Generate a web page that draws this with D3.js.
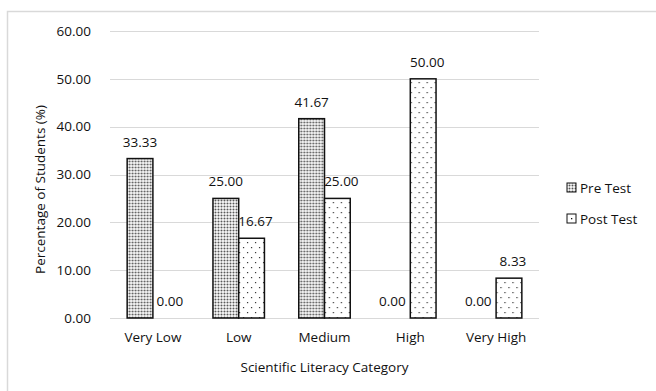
<!DOCTYPE html>
<html><head><meta charset="utf-8">
<script src="https://cdn.jsdelivr.net/npm/d3@7"></script>
<style>body{margin:0;background:#fff}svg{display:block}text{font-family:"Open Sans",Lato,sans-serif;fill:#111}</style>
</head><body><svg id="c" width="656" height="391"></svg>
<script>
const categories = ["Very Low","Low","Medium","High","Very High"];
const seriesNames = ["Pre Test","Post Test"];
const preTest = [33.33,25.00,41.67,0.00,0.00];
const postTest = [0.00,16.67,25.00,50.00,8.33];
const yTicks = [0,10,20,30,40,50,60];

const FS = 13.5;
const svg = d3.select("#c");
const defs = svg.append("defs");
// Pre pattern: dense stipple
const p1 = defs.append("pattern").attr("id","pre").attr("width",3).attr("height",3).attr("patternUnits","userSpaceOnUse");
p1.append("rect").attr("width",3).attr("height",3).attr("fill","#eeeeee");
p1.append("rect").attr("x",2).attr("y",0).attr("width",1).attr("height",3).attr("fill","#b8b8b8");
p1.append("rect").attr("x",0).attr("y",2).attr("width",3).attr("height",1).attr("fill","#b8b8b8");
p1.append("rect").attr("x",2).attr("y",2).attr("width",1).attr("height",1).attr("fill","#555");
// Post pattern: sparse dots
const p2 = defs.append("pattern").attr("id","post").attr("width",8).attr("height",10).attr("patternUnits","userSpaceOnUse");
p2.append("rect").attr("width",8).attr("height",10).attr("fill","#fff");
p2.append("rect").attr("x",2).attr("y",2).attr("width",1.2).attr("height",1.2).attr("fill","#333");
p2.append("rect").attr("x",6).attr("y",7).attr("width",1.2).attr("height",1.2).attr("fill","#333");

// outer border
svg.append("rect").attr("x",7.5).attr("y",11.5).attr("width",660).attr("height",400).attr("fill","none").attr("stroke","#d9d9d9").attr("stroke-width",1.5);

const m = {left:110, right:539, top:31, bottom:318};
const x0 = d3.scaleBand().domain(categories).range([m.left,m.right]).paddingInner(0.4).paddingOuter(0.2);
const x1 = d3.scaleBand().domain(seriesNames).range([0,x0.bandwidth()]);
const y = d3.scaleLinear().domain([0,60]).range([m.bottom,m.top]);

// gridlines
svg.append("g").selectAll("line").data(yTicks).join("line")
  .attr("x1",m.left).attr("x2",m.right).attr("y1",d=>Math.round(y(d))+0.5).attr("y2",d=>Math.round(y(d))+0.5)
  .attr("stroke","#d9d9d9").attr("stroke-width",1);

// y axis labels
const ya = svg.append("g").attr("transform",`translate(${m.left-16},0)`)
  .call(d3.axisLeft(y).tickValues(yTicks).tickFormat(d3.format(".2f")).tickSize(0));
ya.select(".domain").remove();
ya.selectAll("text").attr("font-size",FS).attr("fill","#111").style("font-family","'Open Sans',Lato,sans-serif");

// x axis labels
const xa = svg.append("g").attr("transform",`translate(0,${m.bottom+11})`)
  .call(d3.axisBottom(x0).tickSize(0));
xa.select(".domain").remove();
xa.selectAll("text").attr("font-size",FS).attr("fill","#111").style("font-family","'Open Sans',Lato,sans-serif");

const rows = categories.map((c,i)=>({c, vals:[{s:"Pre Test",v:preTest[i]},{s:"Post Test",v:postTest[i]}]}));
const g = svg.append("g").selectAll("g").data(rows).join("g").attr("transform",d=>`translate(${x0(d.c)},0)`);
g.selectAll("rect").data(d=>d.vals.filter(e=>e.v>0)).join("rect")
  .attr("x",d=>x1(d.s)).attr("width",x1.bandwidth())
  .attr("y",d=>y(d.v)).attr("height",d=>y(0)-y(d.v))
  .attr("fill",d=>d.s==="Pre Test"?"url(#pre)":"url(#post)")
  .attr("stroke","#111").attr("stroke-width",1.5);
g.selectAll("text.lab").data(d=>d.vals).join("text").attr("class","lab")
  .attr("x",d=>x1(d.s)+x1.bandwidth()/2 + (d.s==="Post Test" ? 4 : (d.v===0 ? -5 : 0)))
  .attr("y",d=>y(d.v)-12)
  .attr("text-anchor","middle").attr("font-size",FS).text(d=>d.v.toFixed(2));

// axis titles
svg.append("text").attr("transform",`translate(45,${(m.top+m.bottom)/2+15}) rotate(-90)`)
  .attr("text-anchor","middle").attr("font-size",FS).text("Percentage of Students (%)");
svg.append("text").attr("x",(m.left+m.right)/2).attr("y",372)
  .attr("text-anchor","middle").attr("font-size",FS).text("Scientific Literacy Category");

// legend
const lg = svg.append("g").selectAll("g").data(seriesNames).join("g")
  .attr("transform",(d,i)=>`translate(567,${183+i*31})`);
lg.append("rect").attr("width",9).attr("height",9).attr("fill",d=>d==="Pre Test"?"url(#pre)":"#fff")
  .attr("stroke","#111").attr("stroke-width",1);
lg.filter(d=>d==="Post Test").append("rect").attr("x",4).attr("y",4).attr("width",1.3).attr("height",1.3).attr("fill","#111");
lg.append("text").attr("x",13).attr("y",10).attr("font-size",FS).text(d=>d);
</script></body></html>
